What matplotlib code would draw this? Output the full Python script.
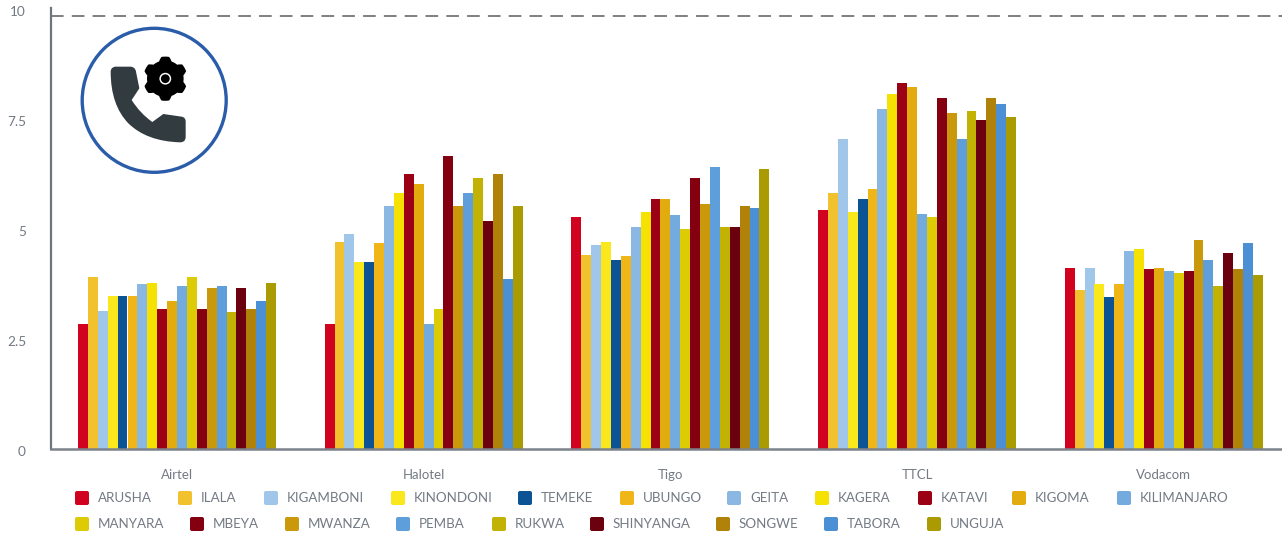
import numpy as np
import matplotlib
matplotlib.use("Agg")
import matplotlib.pyplot as plt
from matplotlib.patches import Circle, FancyBboxPatch, PathPatch, Polygon
from matplotlib.path import Path
from matplotlib.transforms import ScaledTranslation

plt.rcParams['font.family'] = ['Lato', 'DejaVu Sans']

operators = ["Airtel", "Halotel", "Tigo", "TTCL", "Vodacom"]
regions = ["ARUSHA", "ILALA", "KIGAMBONI", "KINONDONI", "TEMEKE", "UBUNGO", "GEITA", "KAGERA",
           "KATAVI", "KIGOMA", "KILIMANJARO", "MANYARA", "MBEYA", "MWANZA", "PEMBA", "RUKWA",
           "SHINYANGA", "SONGWE", "TABORA", "UNGUJA"]
colors = ["#D0021F", "#F2C12E", "#A0C6EA", "#FAE71C", "#0B5394", "#F0B618", "#8AB8E3", "#F5E203",
          "#9B0014", "#E2AB0E", "#74ABDF", "#DCCB05", "#840011", "#C9990B", "#5E9FDB", "#C1B203",
          "#6B000E", "#B0820A", "#4B90D4", "#AA9B02"]

airtel = [2.85, 3.91, 3.14, 3.48, 3.48, 3.48, 3.75, 3.78, 3.20, 3.37,
          3.71, 3.91, 3.20, 3.66, 3.71, 3.12, 3.66, 3.20, 3.37, 3.78]
halotel = [2.85, 4.72, 4.90, 4.26, 4.26, 4.69, 5.53, 5.82, 6.26, 6.03,
           2.85, 3.20, 6.67, 5.53, 5.82, 6.17, 5.20, 6.26, 3.88, 5.53]
tigo = [5.28, 4.42, 4.65, 4.72, 4.31, 4.40, 5.06, 5.40, 5.69, 5.69,
        5.33, 5.00, 6.17, 5.58, 6.42, 5.06, 5.06, 5.53, 5.49, 6.37]
ttcl = [5.45, 5.83, 7.06, 5.40, 5.69, 5.92, 7.74, 8.08, 8.33, 8.24,
        5.35, 5.28, 7.99, 7.65, 7.06, 7.69, 7.49, 7.99, 7.85, 7.56]
vodacom = [4.13, 3.62, 4.13, 3.76, 3.47, 3.76, 4.51, 4.56, 4.10, 4.13,
           4.06, 4.00, 4.06, 4.76, 4.31, 3.72, 4.47, 4.10, 4.69, 3.97]
series = [airtel, halotel, tigo, ttcl, vodacom]
target = 9.84
yticks = [0, 2.5, 5, 7.5, 10]
yticklabels = ["0", "2.5", "5", "7.5", "10"]

W, H = 1282, 533
TEXT = "#737A84"
fig = plt.figure(figsize=(W / 100, H / 100), dpi=100, facecolor="white")
base = 449.3
ax = fig.add_axes([51 / W, 1 - base / H, (W - 51) / W, (base - 8) / H])
pitch = 246.7
ax.set_xlim(-126 / pitch, 1105 / pitch)
ax.set_ylim(0, (base - 8) / 44)

bw = 9.9 / pitch
x = np.arange(len(operators))
for j, (name, col) in enumerate(zip(regions, colors)):
    vals = [s[j] for s in series]
    ax.bar(x + (j - 9.5) * bw, vals, width=bw, color=col, linewidth=0, zorder=2)

ax.axhline(target, color="#7F7F7F", lw=1.4, dashes=(6.5, 4.2), zorder=1)

for s in ["top", "right"]:
    ax.spines[s].set_visible(False)
ax.spines["left"].set_color("#6E7480")
ax.spines["left"].set_linewidth(1.6)
ax.spines["bottom"].set_color("#7C828C")
ax.spines["bottom"].set_linewidth(1.8)
ax.set_yticks(yticks)
ax.set_yticklabels(yticklabels)
ax.set_xticks(x)
ax.set_xticklabels(operators)
ax.tick_params(axis="y", length=0, pad=18, labelsize=9.8, labelcolor=TEXT)
ax.tick_params(axis="x", length=0, pad=14, labelsize=9.5, labelcolor=TEXT)
off = ScaledTranslation(0, -1.6 / 100, fig.dpi_scale_trans)
for lab in ax.get_yticklabels():
    lab.set_horizontalalignment("right")
    lab.set_transform(lab.get_transform() + off)

ov = fig.add_axes([0, 0, 1, 1], facecolor="none")
ov.set_xlim(0, W)
ov.set_ylim(H, 0)
ov.axis("off")

# legend
row1_x = [75, 178, 264, 391, 518, 620, 727, 815, 918, 1012, 1117]
row2_x = [75, 190, 285, 396, 492, 590, 716, 824, 927]
lx = row1_x + row2_x
ly = [498] * len(row1_x) + [524] * len(row2_x)
for name, col, px, py in zip(regions, colors, lx, ly):
    ov.add_patch(FancyBboxPatch((px + 2, py - 5), 10, 10, boxstyle="round,pad=2,rounding_size=2",
                                fc=col, ec="none"))
    ov.text(px + 23, py + 0.5, name, fontsize=9.6, color=TEXT, va="center", ha="left")

# icon
ov.add_patch(Circle((154.2, 100.3), 72, fc="white", ec="#2A5CAA", lw=2.4))
P = [
    (332, 215, Path.MOVETO), (332, 203, Path.CURVE3), (345, 200, Path.CURVE3),
    (393, 200, Path.LINETO), (406, 202, Path.CURVE3), (408, 215, Path.CURVE3),
    (418, 265, Path.LINETO), (395, 300, Path.LINETO),
    (420, 340, Path.CURVE3), (457, 366, Path.CURVE3),
    (490, 342, Path.LINETO), (545, 350, Path.LINETO),
    (557, 352, Path.CURVE3), (557, 365, Path.CURVE3),
    (557, 412, Path.LINETO), (556, 427, Path.CURVE3), (540, 427, Path.CURVE3),
    (440, 424, Path.CURVE3), (385, 370, Path.CURVE3),
    (332, 315, Path.CURVE3), (332, 215, Path.CURVE3),
    (332, 215, Path.CLOSEPOLY),
]
verts = [(a / 3, b / 3) for a, b, _ in P]
codes = [c for _, _, c in P]
ov.add_patch(PathPatch(Path(verts, codes), fc="#323B40", ec="none"))
th = np.linspace(0, 2 * np.pi, 360, endpoint=False)
rad = 20.2 + 1.9 * np.clip(np.cos(6 * th + np.pi) * 2.0, -1, 1)
ov.add_patch(Polygon(np.c_[165.3 + rad * np.cos(th), 78.7 + rad * np.sin(th)], fc="black", ec="none"))
ov.add_patch(Circle((165.3, 78.7), 5.9, fc="white", ec="none"))
ov.add_patch(Circle((165.3, 78.7), 4.4, fc="black", ec="none"))

fig.savefig("out.png", dpi=100)
